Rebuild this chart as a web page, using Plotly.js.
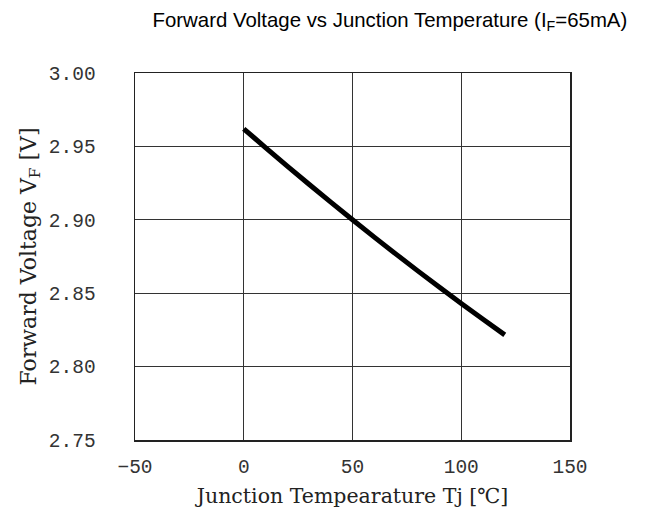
<!DOCTYPE html>
<html><head><meta charset="utf-8">
<script src="https://cdn.plot.ly/plotly-3.0.1.min.js"></script>
<style>body{margin:0;background:#fff}</style>
</head><body><div id="chart" style="width:648px;height:525px"></div>
<script>
const tempC = [0, 10, 20, 30, 40, 50, 60, 70, 80, 90, 100, 110, 120];
const vf = [2.962, 2.9492, 2.9366, 2.9242, 2.9120, 2.9000, 2.8882, 2.8766, 2.8652, 2.8540, 2.8430, 2.8322, 2.8216];
const xTicks = [-50, 0, 50, 100, 150];
const yTicks = [2.75, 2.80, 2.85, 2.90, 2.95, 3.00];

const tickFont = {family: 'Liberation Mono, DejaVu Sans Mono, monospace', size: 19.5, color: '#333'};

Plotly.newPlot('chart', [{
  x: tempC, y: vf, type: 'scatter', mode: 'lines',
  line: {color: '#000', width: 5, shape: 'spline'}, hoverinfo: 'skip'
}], {
  width: 648, height: 525,
  margin: {l: 135, r: 78, t: 73, b: 85},
  paper_bgcolor: '#fff', plot_bgcolor: '#fff',
  showlegend: false,
  title: {text: 'Forward Voltage vs Junction Temperature (I<sub>F</sub>=65mA)',
    font: {family: 'Liberation Sans, Arial, sans-serif', size: 20.4, color: '#000'},
    x: 0.586, xref: 'paper', xanchor: 'center', y: 0.962, yanchor: 'middle'},
  xaxis: {range: [-50, 150], tickvals: xTicks, ticktext: xTicks.map(v => v < 0 ? '\u2212' + (-v) : String(v)),
    showgrid: true, gridcolor: '#333', gridwidth: 1, zeroline: false,
    showline: true, linecolor: '#222', linewidth: 1.5, mirror: true, ticks: '',
    tickfont: tickFont, ticklabelstandoff: 8,
    title: {text: 'Junction Tempearature Tj [\u2103]', font: {family: 'DejaVu Serif, Liberation Serif, serif', size: 20.5, color: '#222'}, standoff: 10}},
  yaxis: {range: [2.75, 3.00], tickvals: yTicks, ticktext: yTicks.map(v => v.toFixed(2)),
    showgrid: true, gridcolor: '#333', gridwidth: 1, zeroline: false,
    showline: true, linecolor: '#222', linewidth: 1.5, mirror: true, ticks: '',
    tickfont: tickFont, ticklabelstandoff: 34,
    title: {text: 'Forward Voltage V<sub>F</sub> [V]', font: {family: 'DejaVu Serif, Liberation Serif, serif', size: 22, color: '#222'}, standoff: 6}}
}, {staticPlot: true});
</script></body></html>
